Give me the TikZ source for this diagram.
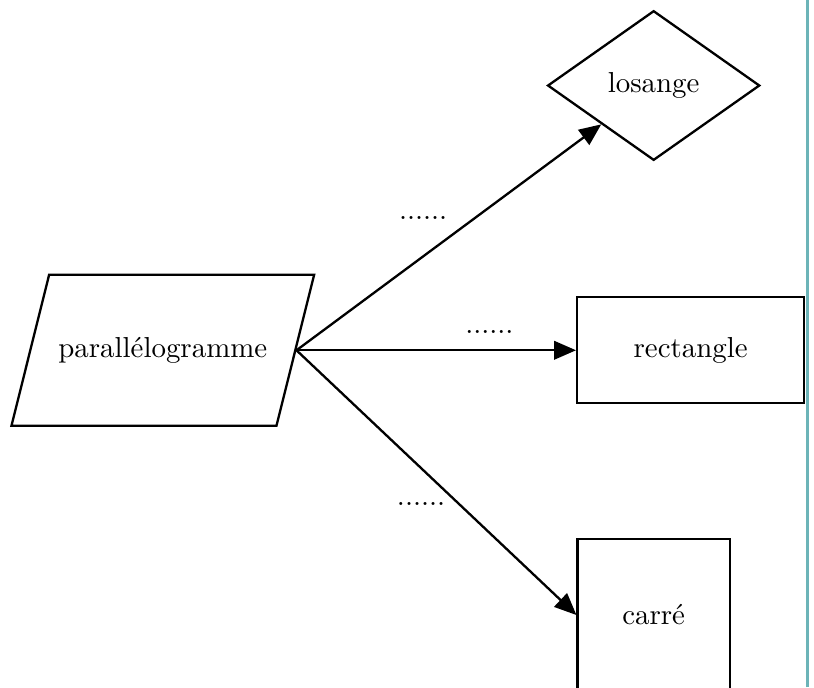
\documentclass[tikz,border=0pt]{standalone}
\usepackage{amssymb,amsmath}
\usepackage{tikz}
\usetikzlibrary{shapes.geometric,arrows.meta}
\definecolor{margeteal}{RGB}{108,180,184}
\tikzset{
  forme/.style={draw=black, thick, align=center},
  fleche/.style={thick, -{Triangle[length=7.6pt,width=6.4pt]}}
}
\begin{document}
\begin{tikzpicture}
    \useasboundingbox (-1.98,-4.10) rectangle (7.92,4.26);
    \node[forme, shape=trapezium, trapezium left angle=76, trapezium right angle=104, inner xsep=3.2pt, inner ysep=21.6pt] at (0,0) (P) {parallélogramme};
    \node[forme, shape=diamond, inner sep=0pt, minimum width=2.58cm, minimum height=1.82cm] at (5.97,3.22) (L) {losange};
    \node[forme, shape=rectangle, minimum width=2.76cm, minimum height=1.29cm] at (6.42,0) (R) {rectangle};
    \node[forme, shape=rectangle, minimum width=1.85cm, minimum height=1.85cm] at (5.97,-3.22) (C) {carré};
    \path [fleche] (P.right side) edge node[above left=0pt, pos=0.53] {......} (L);
    \path [fleche] (P.right side) edge node[above=2pt, pos=0.69] {......} (R.west);
    \path [fleche] (P.right side) edge node[left=1pt, pos=0.58] {......} (C.west);
    \draw[margeteal, line width=1.2pt] (7.84,-4.10) -- (7.84,4.26);
\end{tikzpicture}
\end{document}
